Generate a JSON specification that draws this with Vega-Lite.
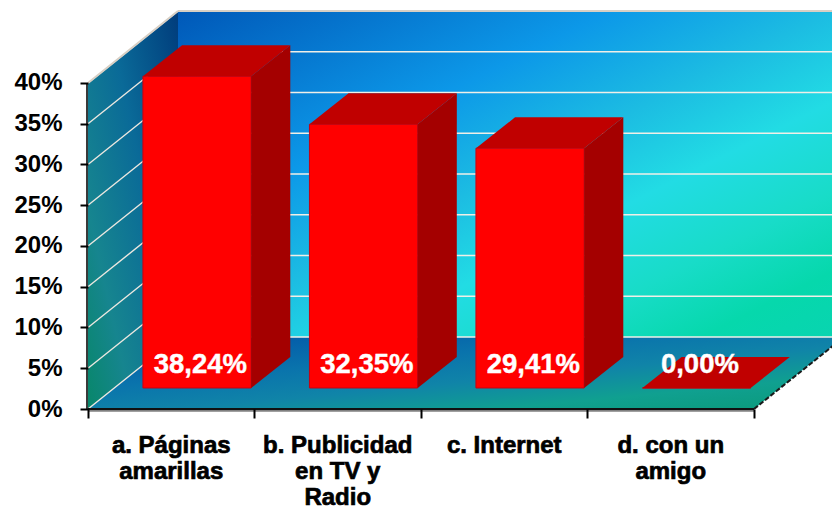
{
  "$schema": "https://vega.github.io/schema/vega-lite/v6.json",
  "width": 832,
  "height": 506,
  "padding": 0,
  "autosize": "none",
  "background": "white",
  "view": {"stroke": null},
  "config": {"text": {"font": "Liberation Sans"}},
  "resolve": {"axis": {"x": "independent", "y": "independent"}},
  "datasets": {
    "barras": [
      {"categoria": "a. Páginas\namarillas", "orden": 0, "share": 38.24},
      {"categoria": "b. Publicidad\nen TV y\nRadio", "orden": 1, "share": 32.35},
      {"categoria": "c. Internet", "orden": 2, "share": 29.41},
      {"categoria": "d. con un\namigo", "orden": 3, "share": 0}
    ],
    "escala": [
      {"pct": 0}, {"pct": 5}, {"pct": 10}, {"pct": 15}, {"pct": 20},
      {"pct": 25}, {"pct": 30}, {"pct": 35}, {"pct": 40}
    ],
    "fondo": [{"t": 0}, {"t": 1}],
    "ejes": [{"slot": 0}, {"slot": 1}, {"slot": 2}, {"slot": 3}, {"slot": 4}]
  },
  "layer": [
    {
      "description": "Left wall",
      "data": {"name": "fondo"},
      "transform": [
        {"calculate": "datum.t * 0.5405", "as": "px"},
        {"calculate": "datum.t * 8.83", "as": "py"},
        {"calculate": "40 + datum.t * 8.83", "as": "py2"}
      ],
      "mark": {
        "type": "area", "orient": "vertical",
        "fill": {"gradient": "linear", "x1": 1, "y1": 0, "x2": 0, "y2": 1, "stops": [
          {"offset": 0, "color": "#003c7c"},
          {"offset": 0.4, "color": "#0a6a98"},
          {"offset": 0.75, "color": "#16858f"},
          {"offset": 1, "color": "#08876a"}
        ]}
      },
      "encoding": {
        "x": {"field": "px", "type": "quantitative", "axis": null, "scale": {"domain": [-0.5285, 4.4685], "nice": false, "zero": false}},
        "y": {"field": "py", "type": "quantitative", "stack": null, "axis": null, "scale": {"domain": [-11.9, 50.18], "nice": false, "zero": false}},
        "y2": {"field": "py2"}
      }
    },
    {
      "description": "Back wall",
      "data": {"values": [{}]},
      "mark": {
        "type": "rect",
        "fill": {"gradient": "linear", "x1": 0, "y1": 0, "x2": 1, "y2": 1, "stops": [
          {"offset": 0, "color": "#0058b8"},
          {"offset": 0.33, "color": "#0c98e8"},
          {"offset": 0.5, "color": "#1cbce2"},
          {"offset": 0.64, "color": "#22dce4"},
          {"offset": 0.78, "color": "#18dcc8"},
          {"offset": 0.9, "color": "#06d8ac"},
          {"offset": 1, "color": "#08d4b0"}
        ]}
      },
      "encoding": {
        "x": {"datum": 0.5405, "type": "quantitative", "axis": null, "scale": {"domain": [-0.5285, 4.4685], "nice": false, "zero": false}},
        "x2": {"datum": 4.4685},
        "y": {"datum": 8.83, "type": "quantitative", "axis": null, "scale": {"domain": [-11.9, 50.18], "nice": false, "zero": false}},
        "y2": {"datum": 48.83}
      }
    },
    {
      "description": "Floor",
      "data": {"name": "fondo"},
      "transform": [
        {"calculate": "datum.t * 0.5405", "as": "px"},
        {"calculate": "4 + datum.t * 0.5405", "as": "px2"},
        {"calculate": "datum.t * 8.83", "as": "py"}
      ],
      "mark": {
        "type": "area", "orient": "horizontal", "clip": true,
        "fill": {"gradient": "linear", "x1": 0, "y1": 0, "x2": 1, "y2": 1, "stops": [
          {"offset": 0, "color": "#0050a8"},
          {"offset": 0.36, "color": "#0a74ac"},
          {"offset": 0.56, "color": "#1084a8"},
          {"offset": 0.77, "color": "#10a090"},
          {"offset": 1, "color": "#0a9a78"}
        ]}
      },
      "encoding": {
        "x": {"field": "px", "type": "quantitative", "stack": null, "axis": null, "scale": {"domain": [-0.5285, 4.4685], "nice": false, "zero": false}},
        "x2": {"field": "px2"},
        "y": {"field": "py", "type": "quantitative", "axis": null, "scale": {"domain": [-11.9, 50.18], "nice": false, "zero": false}}
      }
    },
    {
      "description": "Gridlines on the back wall",
      "data": {"name": "escala"},
      "transform": [{"calculate": "datum.pct + 8.83", "as": "py"}],
      "mark": {"type": "rule", "stroke": "#f0efe8", "strokeWidth": 1.6},
      "encoding": {
        "x": {"datum": 0.5405, "type": "quantitative", "axis": null, "scale": {"domain": [-0.5285, 4.4685], "nice": false, "zero": false}},
        "x2": {"datum": 4.4685},
        "y": {"field": "py", "type": "quantitative", "axis": null, "scale": {"domain": [-11.9, 50.18], "nice": false, "zero": false}}
      }
    },
    {
      "description": "Gridlines on the left wall, with the vertical axis",
      "data": {"name": "escala"},
      "transform": [{"calculate": "datum.pct + 8.83", "as": "py2"}],
      "mark": {"type": "rule", "stroke": "#ece8e0", "strokeWidth": 1.4},
      "encoding": {
        "x": {"datum": 0, "type": "quantitative", "axis": null, "scale": {"domain": [-0.5285, 4.4685], "nice": false, "zero": false}},
        "x2": {"datum": 0.5405},
        "y": {
          "field": "pct", "type": "quantitative",
          "scale": {"domain": [-11.9, 50.18], "nice": false, "zero": false},
          "axis": {
            "values": [0, 5, 10, 15, 20, 25, 30, 35, 40],
            "offset": -88, "domain": false, "grid": false, "title": null,
            "tickColor": "black", "tickSize": 8, "tickWidth": 2,
            "labelExpr": "datum.value + '%'",
            "labelFont": "Liberation Sans", "labelFontWeight": "bold", "labelFontSize": 24,
            "labelColor": "black", "labelPadding": 18, "zindex": 1,
            "encoding": {"labels": {"update": {"stroke": {"value": "black"}, "strokeWidth": {"value": 0.7}}}}
          }
        },
        "y2": {"field": "py2"}
      }
    },
    {
      "description": "Tick marks along the floor edge",
      "data": {"name": "ejes"},
      "mark": {"type": "rule", "opacity": 0},
      "encoding": {
        "x": {
          "field": "slot", "type": "quantitative",
          "scale": {"domain": [-0.5285, 4.4685], "nice": false, "zero": false},
          "axis": {
            "values": [0, 1, 2, 3, 4],
            "offset": -97, "domain": false, "grid": false, "title": null, "labels": false,
            "tickColor": "black", "tickSize": 9, "tickWidth": 2, "zindex": 1
          }
        }
      }
    },
    {
      "description": "Grey shadow under the floor edge",
      "data": {"values": [{}]},
      "mark": {"type": "rule", "stroke": "#808080", "strokeWidth": 2},
      "encoding": {
        "x": {"datum": 0, "type": "quantitative", "axis": null, "scale": {"domain": [-0.5285, 4.4685], "nice": false, "zero": false}},
        "x2": {"datum": 4},
        "y": {"datum": -0.2, "type": "quantitative", "axis": null, "scale": {"domain": [-11.9, 50.18], "nice": false, "zero": false}}
      }
    },
    {
      "description": "Front floor edge",
      "data": {"values": [{}]},
      "mark": {"type": "rule", "stroke": "#111111", "strokeWidth": 2},
      "encoding": {
        "x": {"datum": 0, "type": "quantitative", "axis": null, "scale": {"domain": [-0.5285, 4.4685], "nice": false, "zero": false}},
        "x2": {"datum": 4},
        "y": {"datum": 0, "type": "quantitative", "axis": null, "scale": {"domain": [-11.9, 50.18], "nice": false, "zero": false}}
      }
    },
    {
      "description": "Vertical axis line",
      "data": {"values": [{}]},
      "mark": {"type": "rule", "stroke": "#3a3a3a", "strokeWidth": 2},
      "encoding": {
        "x": {"datum": -0.006, "type": "quantitative", "axis": null, "scale": {"domain": [-0.5285, 4.4685], "nice": false, "zero": false}},
        "y": {"datum": 0, "type": "quantitative", "axis": null, "scale": {"domain": [-11.9, 50.18], "nice": false, "zero": false}},
        "y2": {"datum": 40}
      }
    },
    {
      "description": "Right floor edge",
      "data": {"values": [{}]},
      "mark": {"type": "rule", "stroke": "#1a1a1a", "strokeWidth": 2, "strokeDash": [5, 2], "clip": true},
      "encoding": {
        "x": {"datum": 4, "type": "quantitative", "axis": null, "scale": {"domain": [-0.5285, 4.4685], "nice": false, "zero": false}},
        "x2": {"datum": 4.5405},
        "y": {"datum": 0, "type": "quantitative", "axis": null, "scale": {"domain": [-11.9, 50.18], "nice": false, "zero": false}},
        "y2": {"datum": 8.83}
      }
    },
    {
      "description": "Light top edge of the left wall",
      "data": {"values": [{}]},
      "mark": {"type": "rule", "stroke": "#d8cfc4", "strokeWidth": 2},
      "encoding": {
        "x": {"datum": 0, "type": "quantitative", "axis": null, "scale": {"domain": [-0.5285, 4.4685], "nice": false, "zero": false}},
        "x2": {"datum": 0.5405},
        "y": {"datum": 40, "type": "quantitative", "axis": null, "scale": {"domain": [-11.9, 50.18], "nice": false, "zero": false}},
        "y2": {"datum": 48.83}
      }
    },
    {
      "description": "Light top edge of the back wall",
      "data": {"values": [{}]},
      "mark": {"type": "rule", "stroke": "#d8cfc4", "strokeWidth": 2},
      "encoding": {
        "x": {"datum": 0.5405, "type": "quantitative", "axis": null, "scale": {"domain": [-0.5285, 4.4685], "nice": false, "zero": false}},
        "x2": {"datum": 4.4685},
        "y": {"datum": 48.83, "type": "quantitative", "axis": null, "scale": {"domain": [-11.9, 50.18], "nice": false, "zero": false}}
      }
    },
    {
      "description": "Front faces of the bars",
      "data": {"name": "barras"},
      "transform": [
        {"calculate": "datum.orden + 0.33", "as": "x0"},
        {"calculate": "datum.orden + 0.98", "as": "x1"},
        {"calculate": "2.58", "as": "y0"},
        {"calculate": "2.58 + datum.share", "as": "y1"}
      ],
      "mark": {"type": "rect", "fill": "#ff0000", "stroke": "#c80010", "strokeWidth": 1},
      "encoding": {
        "x": {"field": "x0", "type": "quantitative", "axis": null, "scale": {"domain": [-0.5285, 4.4685], "nice": false, "zero": false}},
        "x2": {"field": "x1"},
        "y": {"field": "y0", "type": "quantitative", "axis": null, "scale": {"domain": [-11.9, 50.18], "nice": false, "zero": false}},
        "y2": {"field": "y1"}
      }
    },
    {
      "description": "Side faces of the bars",
      "data": {"name": "barras"},
      "transform": [
        {"calculate": "[0, 1]", "as": "t"},
        {"flatten": ["t"]},
        {"calculate": "datum.orden + 0.98 + datum.t * 0.235", "as": "px"},
        {"calculate": "2.58 + datum.t * 3.8", "as": "py"},
        {"calculate": "2.58 + datum.share + datum.t * 3.8", "as": "py2"}
      ],
      "mark": {"type": "area", "orient": "vertical", "fill": "#a40000"},
      "encoding": {
        "x": {"field": "px", "type": "quantitative", "axis": null, "scale": {"domain": [-0.5285, 4.4685], "nice": false, "zero": false}},
        "y": {"field": "py", "type": "quantitative", "stack": null, "axis": null, "scale": {"domain": [-11.9, 50.18], "nice": false, "zero": false}},
        "y2": {"field": "py2"},
        "detail": {"field": "orden", "type": "nominal"}
      }
    },
    {
      "description": "Top faces of the bars",
      "data": {"name": "barras"},
      "transform": [
        {"calculate": "[0, 1]", "as": "t"},
        {"flatten": ["t"]},
        {"calculate": "datum.orden + 0.33 + datum.t * 0.235", "as": "px"},
        {"calculate": "datum.orden + 0.98 + datum.t * 0.235", "as": "px2"},
        {"calculate": "2.58 + datum.share + datum.t * 3.8", "as": "py"}
      ],
      "mark": {"type": "area", "orient": "horizontal", "fill": "#c00000"},
      "encoding": {
        "x": {"field": "px", "type": "quantitative", "stack": null, "axis": null, "scale": {"domain": [-0.5285, 4.4685], "nice": false, "zero": false}},
        "x2": {"field": "px2"},
        "y": {"field": "py", "type": "quantitative", "axis": null, "scale": {"domain": [-11.9, 50.18], "nice": false, "zero": false}},
        "detail": {"field": "orden", "type": "nominal"}
      }
    },
    {
      "description": "Value labels at the foot of each bar",
      "data": {"name": "barras"},
      "transform": [
        {"calculate": "datum.orden + 0.675", "as": "px"},
        {"calculate": "replace(format(datum.share, '.2f'), '.', ',') + '%'", "as": "valor"}
      ],
      "mark": {"type": "text", "color": "white", "stroke": "white", "strokeWidth": 0.4, "fontWeight": "bold", "fontSize": 27.5, "align": "center", "baseline": "alphabetic"},
      "encoding": {
        "x": {"field": "px", "type": "quantitative", "axis": null, "scale": {"domain": [-0.5285, 4.4685], "nice": false, "zero": false}},
        "y": {"datum": 4.42, "type": "quantitative", "axis": null, "scale": {"domain": [-11.9, 50.18], "nice": false, "zero": false}},
        "text": {"field": "valor", "type": "nominal"}
      }
    },
    {
      "description": "Category labels under the floor",
      "data": {"name": "barras"},
      "transform": [{"calculate": "datum.orden + 0.5", "as": "px"}],
      "mark": {"type": "text", "color": "black", "stroke": "black", "strokeWidth": 0.7, "fontWeight": "bold", "fontSize": 24, "align": "center", "baseline": "alphabetic", "lineBreak": "\n", "lineHeight": 26},
      "encoding": {
        "x": {"field": "px", "type": "quantitative", "axis": null, "scale": {"domain": [-0.5285, 4.4685], "nice": false, "zero": false}},
        "y": {"datum": -5.4, "type": "quantitative", "axis": null, "scale": {"domain": [-11.9, 50.18], "nice": false, "zero": false}},
        "text": {"field": "categoria", "type": "nominal"}
      }
    }
  ]
}
